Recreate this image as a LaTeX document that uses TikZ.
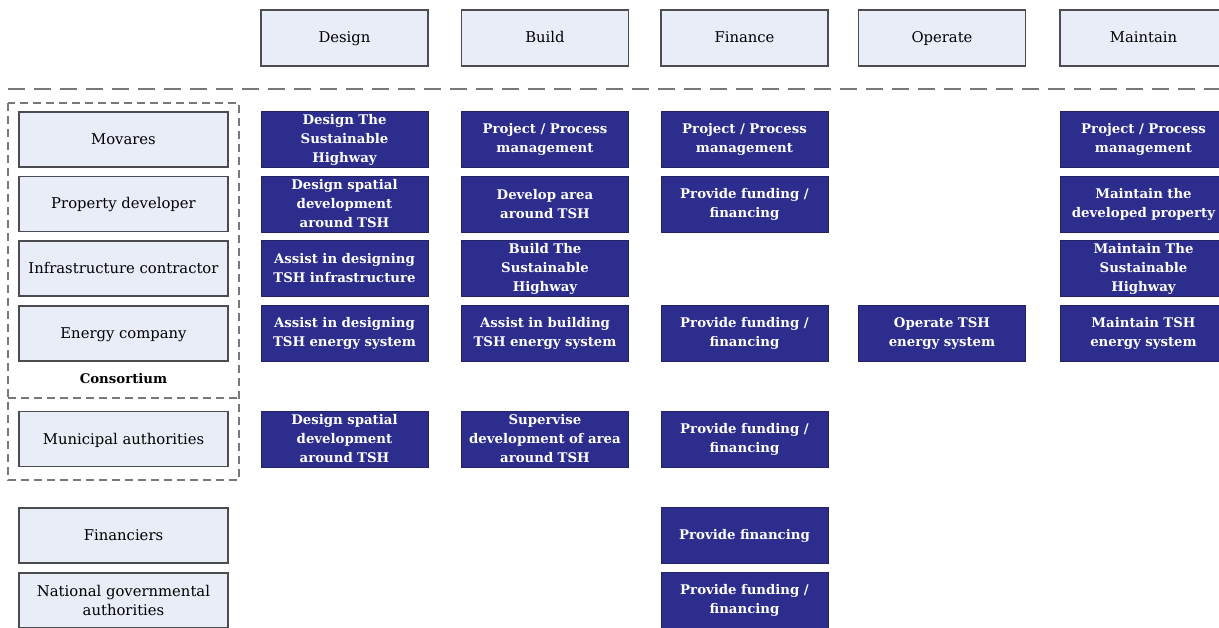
\documentclass[tikz,border=0pt]{standalone}
\usepackage{fontspec}
\setmainfont{DejaVu Serif}
\begin{document}
\begin{tikzpicture}[x=1pt,y=-1pt,
  every node/.style={inner sep=0pt, outer sep=0pt},
  phase/.style={draw=boxline, fill=lightfill, line width=1.1pt, minimum width=167pt, minimum height=56pt, text height=13pt, text depth=3pt, font=\fontsize{14.8}{18}\selectfont},
  actor/.style={draw=boxline, fill=lightfill, line width=1.1pt, minimum width=209pt, minimum height=55pt, align=center, text height=13pt, text depth=3pt, font=\fontsize{14.8}{18}\selectfont},
  task/.style={draw=navyline, fill=navy, line width=0.8pt, minimum width=167pt, minimum height=56pt, text width=162pt, align=center, text=white, font=\bfseries\fontsize{13.3}{19}\selectfont},
  sep/.style={draw=dashgrey, line width=1.6pt, dash pattern=on 17pt off 9pt},
  group/.style={draw=dashgrey, line width=1.3pt, dash pattern=on 8pt off 5pt}
]
\definecolor{lightfill}{RGB}{232,237,248}
\definecolor{boxline}{RGB}{75,75,80}
\definecolor{navy}{RGB}{45,45,142}
\definecolor{navyline}{RGB}{35,35,100}
\definecolor{dashgrey}{RGB}{120,120,120}
\useasboundingbox (0,0) rectangle (1219,628);
\clip (0,0) rectangle (1219,628);

% phase headers
\node[phase] (hdesign)   at (344.5,38) {Design};
\node[phase] (hbuild)    at (545,38)   {Build};
\node[phase] (hfinance)  at (744.5,38) {Finance};
\node[phase] (hoperate)  at (942,38)   {Operate};
\node[phase] (hmaintain) at (1143.5,38) {Maintain};

% separator under the headers
\coordinate (sepL) at (8,89);
\coordinate (sepR) at (1219,89);
\draw[sep] (sepL) -- (sepR);

% consortium / municipal grouping
\draw[group] (8,103) rectangle (239,480);
\draw[group] (8,398) -- (239,398);
\node[font=\bfseries\fontsize{13.3}{16}\selectfont] (consortium) at (123.5,379) {Consortium};

% actors
\node[actor] (movares)   at (123.5,139.5) {Movares};
\node[actor] (propdev)   at (123.5,204)   {Property developer};
\node[actor] (infra)     at (123.5,268.5) {Infrastructure contractor};
\node[actor] (energy)    at (123.5,333.5) {Energy company};
\node[actor] (municipal) at (123.5,439)   {Municipal authorities};
\node[actor] (financier) at (123.5,535.5) {Financiers};
\node[actor, text height=, text depth=, font=\fontsize{14.8}{19.5}\selectfont] (national) at (123.5,600.5) {National governmental\\authorities};

% Movares
\node[task] (m1) at (344.5,139.5)  {Design The\\Sustainable\\Highway};
\node[task] (m2) at (545,139.5)    {Project / Process\\management};
\node[task] (m3) at (744.5,139.5)  {Project / Process\\management};
\node[task] (m5) at (1143.5,139.5) {Project / Process\\management};

% Property developer
\node[task] (p1) at (344.5,204)  {Design spatial\\development\\around TSH};
\node[task] (p2) at (545,204)    {Develop area\\around TSH};
\node[task] (p3) at (744.5,204)  {Provide funding /\\financing};
\node[task] (p5) at (1143.5,204) {Maintain the\\developed property};

% Infrastructure contractor
\node[task] (i1) at (344.5,268.5)  {Assist in designing\\TSH infrastructure};
\node[task] (i2) at (545,268.5)    {Build The\\Sustainable\\Highway};
\node[task] (i5) at (1143.5,268.5) {Maintain The\\Sustainable\\Highway};

% Energy company
\node[task] (e1) at (344.5,333.5)  {Assist in designing\\TSH energy system};
\node[task] (e2) at (545,333.5)    {Assist in building\\TSH energy system};
\node[task] (e3) at (744.5,333.5)  {Provide funding /\\financing};
\node[task] (e4) at (942,333.5)    {Operate TSH\\energy system};
\node[task] (e5) at (1143.5,333.5) {Maintain TSH\\energy system};

% Municipal authorities
\node[task] (u1) at (344.5,439) {Design spatial\\development\\around TSH};
\node[task] (u2) at (545,439)   {Supervise\\development of area\\around TSH};
\node[task] (u3) at (744.5,439) {Provide funding /\\financing};

% Financiers and national authorities
\node[task] (f3) at (744.5,535.5) {Provide financing};
\node[task] (n3) at (744.5,600.5) {Provide funding /\\financing};
\end{tikzpicture}
\end{document}
